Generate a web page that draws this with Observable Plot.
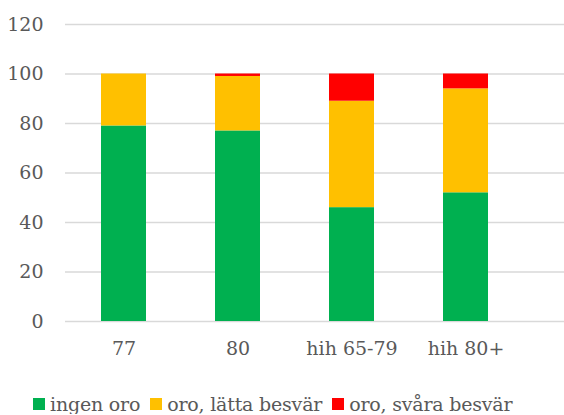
<!DOCTYPE html>
<html>
<head>
<meta charset="utf-8">
<script src="https://cdn.jsdelivr.net/npm/d3@7"></script>
<script src="https://cdn.jsdelivr.net/npm/@observablehq/plot@0.6"></script>
<style>
  html, body { margin: 0; background: #fff; font-family: "DejaVu Serif", serif; overflow: hidden; }
  #chart svg { display: block; }
  #legend { display: flex; margin-left: 33px; margin-top: 19px; height: 20px; line-height: 20px; font-size: 19px; color: #595959; white-space: nowrap; }
  #legend span.item { display: inline-flex; align-items: center; margin-right: 10px; letter-spacing: -0.2px; }
  #legend span.sw { display: inline-block; width: 12px; height: 12px; margin-right: 5px; }
</style>
</head>
<body>
<div id="chart"></div>
<div id="legend"></div>
<script>
const categories = ["77", "80", "hih 65-79", "hih 80+"];
const series = ["ingen oro", "oro, lätta besvär", "oro, svåra besvär"];
const ingenOro = [79, 77, 46, 52];
const lattaBesvar = [21, 22, 43, 42];
const svaraBesvar = [0, 1, 11, 6];
const colors = ["#00B050", "#FFC000", "#FF0000"];
const yTicks = [0, 20, 40, 60, 80, 100, 120];

const values = [ingenOro, lattaBesvar, svaraBesvar];
const data = [];
series.forEach((s, i) => categories.forEach((c, j) => data.push({cat: c, series: s, value: values[i][j]})));

const chart = Plot.plot({
  width: 564,
  height: 375,
  marginTop: 24,
  marginBottom: 54,
  marginLeft: 65,
  marginRight: 0,
  style: { fontFamily: "DejaVu Serif, serif", fontSize: "19px", color: "#595959", background: "#fff" },
  x: { domain: categories, range: [65, 523], paddingInner: 0.607, paddingOuter: 0.3035, label: null },
  y: { domain: [0, 120], ticks: yTicks, label: null },
  color: { domain: series, range: colors },
  marks: [
    Plot.ruleY(yTicks, { stroke: "#d9d9d9", strokeWidth: 1.5 }),
    Plot.barY(data, Plot.stackY({ x: "cat", y: "value", fill: "series", order: series })),
    Plot.axisX({ tickSize: 0, tickPadding: 20, fontSize: 19, fill: "#595959", label: null }),
    Plot.axisY({ ticks: yTicks, tickSize: 0, tickPadding: 22, fontSize: 19, fill: "#595959", label: null })
  ]
});
document.getElementById("chart").appendChild(chart);

const legend = document.getElementById("legend");
series.forEach((s, i) => {
  const item = document.createElement("span");
  item.className = "item";
  const sw = document.createElement("span");
  sw.className = "sw";
  sw.style.background = colors[i];
  item.appendChild(sw);
  item.appendChild(document.createTextNode(s));
  legend.appendChild(item);
});
</script>
</body>
</html>
